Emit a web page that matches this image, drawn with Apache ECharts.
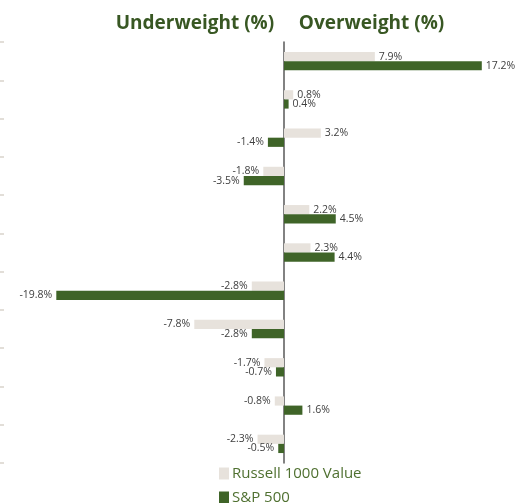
<!DOCTYPE html>
<html>
<head>
<meta charset="utf-8">
<script src="https://cdn.jsdelivr.net/npm/echarts@6/dist/echarts.min.js"></script>
<style>html,body{margin:0;padding:0;background:#fff}#c{width:518px;height:503px}</style>
</head>
<body>
<div id="c"></div>
<script>
var categories = ['C1','C2','C3','C4','C5','C6','C7','C8','C9','C10','C11'];
var russell = [7.9, 0.8, 3.2, -1.8, 2.2, 2.3, -2.8, -7.8, -1.7, -0.8, -2.3];
var sp500 = [17.2, 0.4, -1.4, -3.5, 4.5, 4.4, -19.8, -2.8, -0.7, 1.6, -0.5];
var seriesNames = ['Russell 1000 Value', 'S&P 500'];

var chart = echarts.init(document.getElementById('c'));
function lbl() {
  return {
    show: true, position: 'right', distance: 4,
    fontFamily: 'Open Sans', fontSize: 10.5, color: '#404040',
    formatter: function (p) { return p.value.toFixed(1) + '%'; }
  };
}
function mkSeries(name, data, color) {
  return {
    name: name, type: 'bar', barGap: '0%', barCategoryGap: '52%',
    itemStyle: { color: color },
    label: lbl(),
    data: data.map(function (v) {
      return { value: v, label: { position: v < 0 ? 'left' : 'right' } };
    })
  };
}
function mkLegend(name, top) {
  return {
    orient: 'horizontal', left: 214, top: top, itemGap: 5,
    itemWidth: 10, itemHeight: 12, icon: 'rect',
    textStyle: { fontFamily: 'Open Sans', fontSize: 15, color: '#4F7030', padding: [0, 0, 0, -2] },
    data: [name]
  };
}
chart.setOption({
  animation: false,
  title: {
    text: 'Underweight (%)     Overweight (%)',
    left: 275, top: 9, textAlign: 'center',
    textStyle: { fontFamily: 'Open Sans', fontWeight: 'bold', fontSize: 19, color: '#385723' }
  },
  grid: { left: 8, right: 4, top: 42, bottom: 40 },
  xAxis: {
    type: 'value', min: -24, max: 20,
    axisLine: { show: false }, axisTick: { show: false },
    axisLabel: { show: false }, splitLine: { show: false }
  },
  yAxis: [
    {
      type: 'category', data: categories, inverse: true,
      axisLine: { show: true, onZero: true, lineStyle: { color: '#595959', width: 1.5 } },
      axisTick: { show: false }, axisLabel: { show: false }
    },
    {
      type: 'category', data: categories, inverse: true, position: 'left', offset: 4,
      axisLine: { show: false, onZero: false },
      axisTick: { show: true, length: 4, lineStyle: { color: '#D9D3CB', width: 1.5 } },
      axisLabel: { show: false }
    }
  ],
  legend: [mkLegend(seriesNames[0], 461), mkLegend(seriesNames[1], 485)],
  series: [
    mkSeries(seriesNames[0], russell, '#E7E2DC'),
    mkSeries(seriesNames[1], sp500, '#3F6428')
  ]
});
</script>
</body>
</html>
